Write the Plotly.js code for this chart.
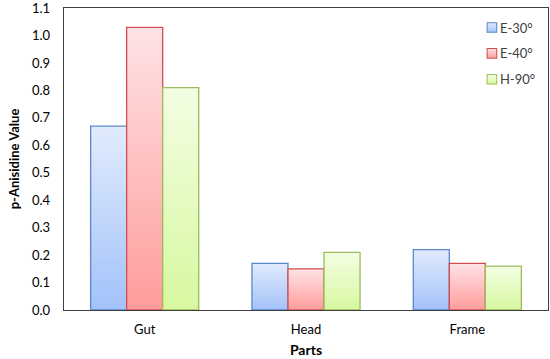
<!DOCTYPE html>
<html>
<head>
<meta charset="utf-8">
<script src="https://cdn.plot.ly/plotly-3.0.1.min.js"></script>
<style>html,body{margin:0;padding:0;background:#fff;}#chart{width:550px;height:359px;}</style>
</head>
<body>
<div id="chart"></div>
<script>
const categories = ["Gut", "Head", "Frame"];
const seriesNames = ["E-30°", "E-40°", "H-90°"];
const e30 = [0.67, 0.17, 0.22];
const e40 = [1.03, 0.15, 0.17];
const h90 = [0.81, 0.21, 0.16];
const yTicks = [0, 0.1, 0.2, 0.3, 0.4, 0.5, 0.6, 0.7, 0.8, 0.9, 1.0, 1.1];

const lineColors = ["#5b87c9", "#d24d50", "#9cbb5a"];
const midColors = ["#c9dbfa", "#ffc4c6", "#e6fbc4"];
const gradTop = ["#e1ebfc", "#ffe3e5", "#f3fee3"];
const gradBot = ["#a3c2fa", "#ff9c9c", "#d7f8a0"];

const values = [e30, e40, h90];
const traces = values.map((v, i) => ({
  type: "bar",
  name: seriesNames[i],
  x: categories,
  y: v,
  legendgroup: "g" + i,
  marker: {color: midColors[i], line: {color: lineColors[i], width: 1.3}}
}));

const font = "Lato, 'Open Sans', sans-serif";
const layout = {
  width: 550, height: 359,
  margin: {l: 64, r: 2, t: 8, b: 49, autoexpand: false},
  paper_bgcolor: "#ffffff",
  plot_bgcolor: "#ffffff",
  font: {family: font, size: 13, color: "#000"},
  barmode: "group",
  bargap: 0.33,
  bargroupgap: 0,
  showlegend: true,
  legend: {x: 0.818, y: 0.985, xanchor: "left", yanchor: "top", bgcolor: "rgba(0,0,0,0)",
           font: {family: font, size: 13, color: "#404040"}, tracegroupgap: 6, itemwidth: 30},
  xaxis: {
    showline: true, linecolor: "#404040", linewidth: 1.3, mirror: true,
    ticks: "", showgrid: false, zeroline: false, ticklabelstandoff: 7,
    tickfont: {family: font, size: 13, color: "#000"},
    title: {text: "<b>Parts</b>", font: {family: font, size: 14, color: "#000"}, standoff: 9}
  },
  yaxis: {
    range: [0, 1.1005], tickvals: yTicks, tickformat: ".1f", ticklabeloverflow: "allow",
    showline: true, linecolor: "#404040", linewidth: 1.3, mirror: true,
    ticks: "", showgrid: false, zeroline: false, ticklabelstandoff: 10,
    tickfont: {family: font, size: 13, color: "#000"},
    title: {text: "<b>p-Anisidine Value</b>", font: {family: font, size: 13, color: "#000"}, standoff: 9}
  }
};

Plotly.newPlot("chart", traces, layout, {displayModeBar: false, staticPlot: true}).then(gd => {
  const svg = gd.querySelector("svg.main-svg");
  const ns = "http://www.w3.org/2000/svg";
  const defs = document.createElementNS(ns, "defs");
  for (let i = 0; i < 3; i++) {
    const g = document.createElementNS(ns, "linearGradient");
    g.setAttribute("id", "grad" + i);
    g.setAttribute("x1", "0"); g.setAttribute("y1", "0");
    g.setAttribute("x2", "0"); g.setAttribute("y2", "1");
    const s1 = document.createElementNS(ns, "stop");
    s1.setAttribute("offset", "0"); s1.setAttribute("stop-color", gradTop[i]);
    const s2 = document.createElementNS(ns, "stop");
    s2.setAttribute("offset", "1"); s2.setAttribute("stop-color", gradBot[i]);
    g.appendChild(s1); g.appendChild(s2);
    defs.appendChild(g);
  }
  svg.insertBefore(defs, svg.firstChild);
  gd.querySelectorAll(".barlayer .trace.bars").forEach((t, i) => {
    t.querySelectorAll(".point path").forEach(p => { p.style.fill = "url(#grad" + i + ")"; });
  });
  gd.querySelectorAll(".legend .traces").forEach((t, i) => {
    t.querySelectorAll(".legendpoints path").forEach(p => {
      p.style.fill = "url(#grad" + i + ")";
      p.setAttribute("transform", "translate(32,0) scale(0.8)");
    });
  });
});
</script>
</body>
</html>
